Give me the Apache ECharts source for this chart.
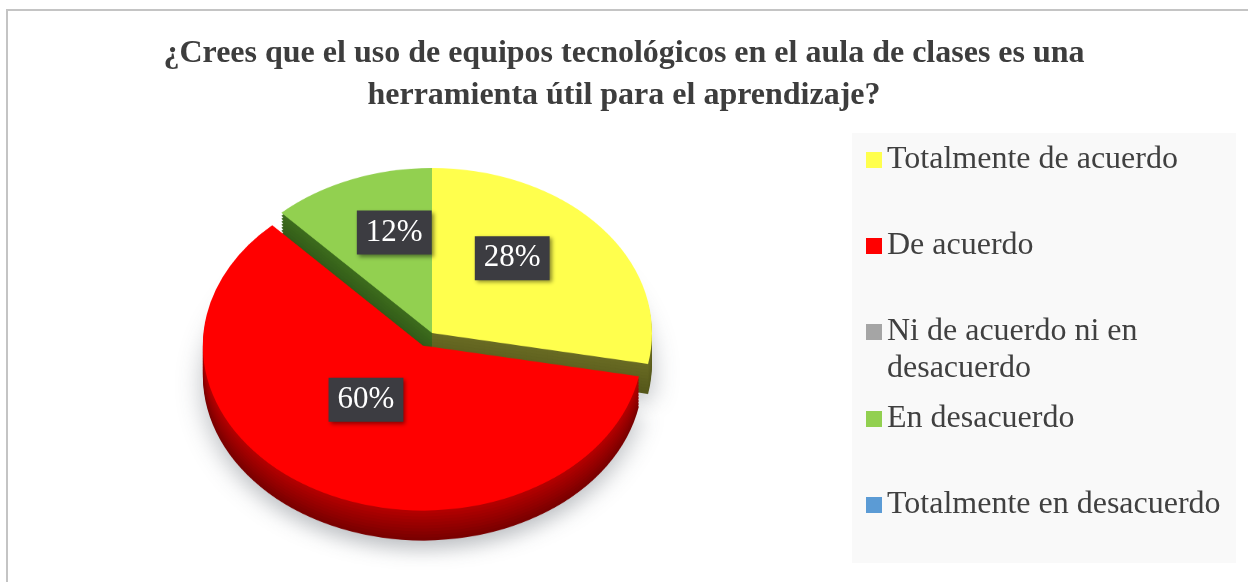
<!DOCTYPE html>
<html>
<head>
<meta charset="utf-8">
<script src="https://cdn.jsdelivr.net/npm/echarts@6/dist/echarts.min.js"></script>
<style>
html, body { margin: 0; padding: 0; background: #fff; }
.wrap { position: relative; width: 1248px; height: 582px; overflow: hidden; }
/* the pie is drawn round and squashed to look tilted */
#pie { position: absolute; left: 0; top: 0; width: 1248px; height: 776px; transform: scaleY(0.75); transform-origin: 0 0; }
#main { position: absolute; left: 0; top: 0; width: 1248px; height: 582px; }
</style>
</head>
<body>
<div class="wrap">
    <div id="pie"></div>
    <div id="main"></div>
</div>
<script>
const titleText = "¿Crees que el uso de equipos tecnológicos en el aula de clases es una\nherramienta útil para el aprendizaje?";
const categories = [
    "Totalmente de acuerdo",
    "De acuerdo",
    "Ni de acuerdo ni en desacuerdo",
    "En desacuerdo",
    "Totalmente en desacuerdo",
];
const percents = [28, 60, 0, 12, 0];

const topColors = ["#ffff4d", "#ff0000", "#a5a5a5", "#92d050", "#5b9bd5"];
const sideTop = ["#6a6c24", "#b80000", "#7a7a7a", "#3e6e1e", "#3e6d99"];
const sideBottom = ["#55571a", "#7a0000", "#555555", "#2d5315", "#2c5175"];
// small nudges so the labels sit where Excel put them
const labelNudge = [[-3, -6], [-14, -28], [0, 0], [2, 0], [0, 0]];

const serif = "'Liberation Serif', 'Times New Roman', serif";
const SQUASH = 0.75;
const CX = 432, CY = 333, R = 220;
const DEPTH = 40; // thickness in unsquashed px

function mix(a, b, t) {
    let pa = [1, 3, 5].map(i => parseInt(a.substr(i, 2), 16));
    let pb = [1, 3, 5].map(i => parseInt(b.substr(i, 2), 16));
    let c = pa.map((v, i) => Math.round(v + (pb[i] - v) * t));
    return "rgb(" + c.join(",") + ")";
}

// ---------- slices ----------
let pieChart = echarts.init(document.getElementById("pie"));
let layers = [];
for (let d = DEPTH; d > 0; d -= 4) {
    let t = d / DEPTH;
    layers.push({
        type: "pie",
        silent: true,
        z: 2,
        center: [CX, CY / SQUASH + d],
        radius: R,
        startAngle: 90,
        clockwise: true,
        selectedMode: "single",
        selectedOffset: 19,
        label: { show: false },
        labelLine: { show: false },
        emphasis: { disabled: true },
        data: categories.map((name, i) => ({
            name: name,
            value: percents[i],
            selected: i === 1,
            itemStyle: {
                color: mix(sideTop[i], sideBottom[i], t),
                borderWidth: 0,
                shadowBlur: d === DEPTH ? 26 : 0,
                shadowColor: "rgba(60,70,80,0.35)",
                shadowOffsetY: d === DEPTH ? 12 : 0,
            },
        })),
    });
}
layers.push({
    type: "pie",
    silent: true,
    z: 3,
    center: [CX, CY / SQUASH],
    radius: R,
    startAngle: 90,
    clockwise: true,
    selectedMode: "single",
    selectedOffset: 19,
    label: { show: false },
    labelLine: { show: false },
    emphasis: { disabled: true },
    data: categories.map((name, i) => ({
        name: name,
        value: percents[i],
        selected: i === 1,
        itemStyle: { color: topColors[i], borderWidth: 0 },
    })),
});
pieChart.setOption({ animation: false, series: layers });

// ---------- title, legend, labels ----------
// wrapped entries keep the square beside their first line
function legendBlock(from, to, top) {
    let wrapped = categories.slice(from, to).some(n => n.length > 26);
    return {
        orient: "vertical",
        left: 866,
        top: top,
        padding: 0,
        icon: "rect",
        itemWidth: 16,
        itemHeight: 16,
        itemGap: 54,
        selectedMode: false,
        data: categories.slice(from, to).map((name, i) => ({
            name: name,
            itemStyle: { color: topColors[from + i] },
        })),
        formatter: function (name) {
            let text = name;
            if (name.length > 26) {
                let k = name.lastIndexOf(" ");
                text = name.slice(0, k) + "}\n{t|" + name.slice(k + 1);
            }
            return "{t|" + text + "}";
        },
        textStyle: {
            padding: wrapped ? [37, 0, 0, 0] : 0,
            rich: {
                t: { fontFamily: serif, fontSize: 32, lineHeight: 37, color: "#404040" },
            },
        },
    };
}

let chart = echarts.init(document.getElementById("main"));
chart.setOption({
    animation: false,
    backgroundColor: "transparent",
    graphic: [
        {
            type: "rect",
            z: -10,
            shape: { x: 7, y: 10, width: 1400, height: 800 },
            style: { fill: "none", stroke: "#c4c4c4", lineWidth: 2 },
        },
        {
            type: "rect",
            z: -5,
            shape: { x: 852, y: 133, width: 384, height: 430 },
            style: { fill: "#f9f9f9" },
        },
    ],
    title: {
        text: titleText,
        left: "center",
        top: 28,
        textStyle: {
            fontFamily: serif,
            fontWeight: "bold",
            fontSize: 32,
            lineHeight: 42,
            color: "#3d3d3d",
        },
    },
    legend: [legendBlock(0, 2, 144), legendBlock(2, 3, 316), legendBlock(3, 5, 403)],
    series: [
        {
            type: "pie",
            silent: true,
            center: [CX, CY],
            radius: [0, 210],
            startAngle: 90,
            clockwise: true,
            labelLine: { show: false },
            emphasis: { disabled: true },
            label: {
                show: true,
                position: "inside",
                formatter: p => p.value + "%",
                fontFamily: serif,
                fontSize: 31,
                lineHeight: 32,
                color: "#ffffff",
                backgroundColor: "#3c3c41",
                padding: [6, 9],
                shadowBlur: 4,
                shadowColor: "rgba(0,0,0,0.45)",
                shadowOffsetX: 2,
                shadowOffsetY: 2,
            },
            data: categories.map((name, i) => ({
                name: name,
                value: percents[i],
                itemStyle: { color: "rgba(0,0,0,0)", borderWidth: 0 },
                label: { show: percents[i] > 0, offset: labelNudge[i] },
            })),
        },
    ],
});
</script>
</body>
</html>
